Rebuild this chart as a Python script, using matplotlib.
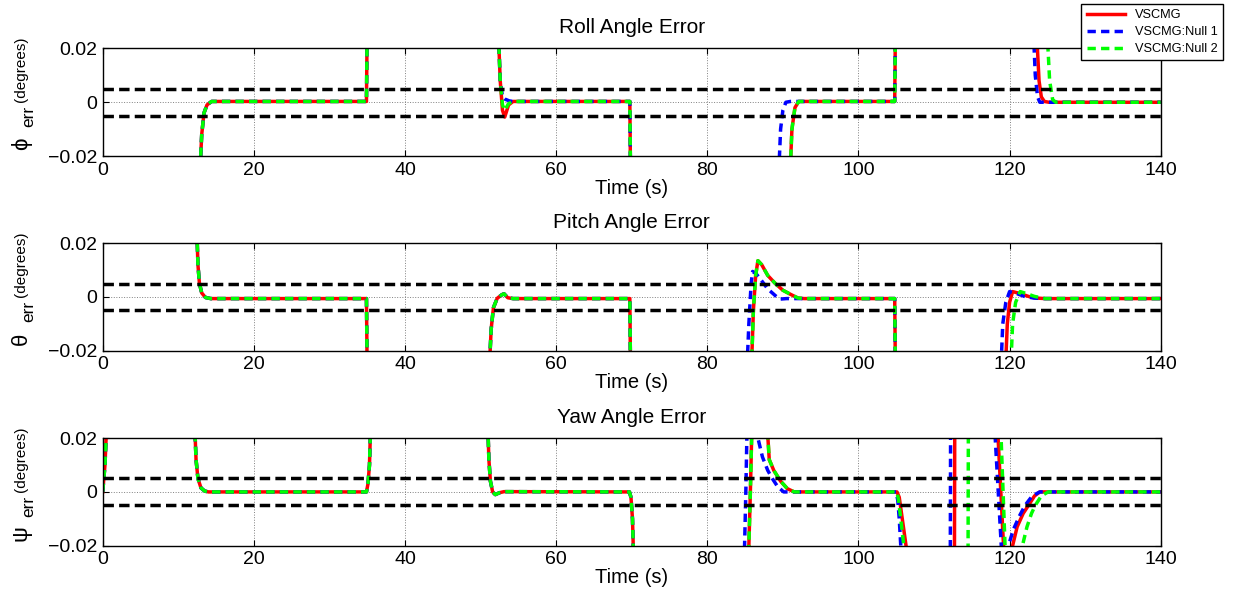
#!/usr/bin/env python3
"""Roll / pitch / yaw attitude error of the VSCMG runs, three stacked panels -> out.png"""
import matplotlib
matplotlib.use("Agg")
import matplotlib.pyplot as plt

plt.rcParams["font.family"] = ["Liberation Sans", "DejaVu Sans"]

# values; +-0.03 means "off the chart" (clipped by the axes)
# ---- roll ----
roll_t_vscmg = [12.8, 13.1, 13.4, 13.8, 14.4, 34.9, 35.0, 52.3, 52.6, 52.9, 53.2, 53.7, 54.3,
                69.75, 69.85, 90.9, 91.2, 91.6, 92.1, 104.8, 104.9, 123.5, 123.9, 124.2, 124.6, 125.2, 140]
roll_vscmg = [-0.03, -0.012, -0.004, -0.001, 0.0003, 0.0003, 0.03, 0.03, 0.008, -0.003, -0.0055, -0.001, 0.0003,
              0.0003, -0.03, -0.03, -0.01, -0.002, 0.0003, 0.0003, 0.03, 0.03, 0.008, 0.002, 0.0003, 0.0, 0.0]
roll_t_null1 = [12.8, 13.1, 13.4, 13.8, 14.4, 34.9, 35.0, 52.3, 52.6, 52.9, 53.2, 53.8, 54.3,
                69.75, 69.85, 89.4, 89.7, 90.0, 90.4, 91.0, 104.8, 104.9, 123.1, 123.4, 123.7, 124.0, 140]
roll_null1 = [-0.03, -0.012, -0.004, -0.001, 0.0003, 0.0003, 0.03, 0.03, 0.008, 0.002, 0.0012, 0.0005, 0.0003,
              0.0003, -0.03, -0.03, -0.01, -0.003, 0.0, 0.0003, 0.0003, 0.03, 0.03, 0.01, 0.002, 0.0, 0.0]
roll_t_null2 = [12.8, 13.1, 13.4, 13.8, 14.4, 34.9, 35.0, 52.3, 52.6, 52.9, 53.2, 53.7, 54.3,
                69.75, 69.85, 90.9, 91.2, 91.6, 92.1, 104.8, 104.9, 124.9, 125.3, 125.7, 126.1, 140]
roll_null2 = [-0.03, -0.012, -0.004, -0.001, 0.0003, 0.0003, 0.03, 0.03, 0.008, -0.001, -0.003, -0.0005, 0.0003,
              0.0003, -0.03, -0.03, -0.01, -0.002, 0.0003, 0.0003, 0.03, 0.03, 0.008, 0.001, 0.0, 0.0]

# ---- pitch ----
pitch_t_vscmg = [12.4, 12.6, 12.8, 13.1, 13.6, 14.3, 34.9, 35.0, 51.1, 51.4, 51.7, 52.2, 52.8, 53.1, 53.6, 54.3,
                 69.75, 69.85, 85.8, 86.1, 86.4, 86.7, 87.2, 88.0, 89.0, 90.0, 91.0, 92.0, 92.8,
                 104.8, 104.9, 119.4, 119.7, 120.0, 120.4, 121.5, 122.5, 123.5, 124.7, 140]
pitch_vscmg = [0.03, 0.012, 0.005, 0.0015, -0.0002, -0.0006, -0.0006, -0.03, -0.03, -0.012, -0.004, -0.0005, 0.0008,
               0.0012, -0.0003, -0.0006, -0.0006, -0.03, -0.03, -0.005, 0.008, 0.0135, 0.012, 0.008, 0.005, 0.0025,
               0.001, -0.0004, -0.0006, -0.0006, -0.03, -0.03, -0.01, -0.002, 0.002, 0.0012, 0.0002, -0.0004,
               -0.0006, -0.0006]
pitch_t_null1 = [12.4, 12.6, 12.8, 13.1, 13.6, 14.3, 34.9, 35.0, 51.1, 51.4, 51.7, 52.2, 52.8, 53.1, 53.6, 54.3,
                 69.75, 69.85, 85.2, 85.5, 85.8, 86.0, 86.5, 87.2, 88.0, 89.0, 89.6, 90.5,
                 104.8, 104.9, 118.8, 119.1, 119.5, 120.0, 121.0, 122.0, 123.2, 124.5, 140]
pitch_null1 = [0.03, 0.012, 0.005, 0.0015, -0.0002, -0.0006, -0.0006, -0.03, -0.03, -0.012, -0.004, -0.0005, 0.0008,
               0.0012, -0.0003, -0.0006, -0.0006, -0.03, -0.03, -0.01, 0.005, 0.0095, 0.0085, 0.006, 0.003, 0.0005,
               -0.0008, -0.0006, -0.0006, -0.03, -0.03, -0.01, -0.002, 0.002, 0.0012, 0.0002, -0.0004, -0.0006,
               -0.0006]
pitch_t_null2 = [12.4, 12.6, 12.8, 13.1, 13.6, 14.3, 34.9, 35.0, 51.1, 51.4, 51.7, 52.2, 52.8, 53.1, 53.6, 54.3,
                 69.75, 69.85, 85.8, 86.1, 86.4, 86.7, 87.2, 88.0, 89.0, 90.0, 91.0, 92.0, 92.8,
                 104.8, 104.9, 120.1, 120.4, 120.8, 121.4, 122.3, 123.3, 124.7, 140]
pitch_null2 = [0.03, 0.012, 0.005, 0.0015, -0.0002, -0.0006, -0.0006, -0.03, -0.03, -0.012, -0.004, -0.0005, 0.0008,
               0.0012, -0.0003, -0.0006, -0.0006, -0.03, -0.03, -0.005, 0.008, 0.0135, 0.012, 0.008, 0.005, 0.0025,
               0.001, -0.0004, -0.0006, -0.0006, -0.03, -0.03, -0.01, -0.002, 0.002, 0.0012, 0.0002, -0.0006, -0.0006]

# ---- yaw ----
yaw_t_vscmg = [0.0, 0.3, 0.6, 12.1, 12.35, 12.6, 13.0, 13.5, 14.0, 34.9, 35.1, 35.3, 35.5,
               50.9, 51.1, 51.3, 51.6, 51.95, 52.5, 53.1, 69.7, 69.9, 70.1, 70.3,
               85.4, 85.7, 85.95, 87.8, 88.2, 88.8, 89.7, 90.6, 91.5,
               105.1, 105.4, 105.7, 106.3, 106.5, 112.7, 112.75, 118.3, 119.2, 119.3,
               120.3, 120.4, 121.0, 121.8, 122.5, 123.3, 124.0, 140]
yaw_vscmg = [0.0, 0.01, 0.03, 0.03, 0.012, 0.005, 0.0015, 0.0003, 0.0, 0.0, 0.003, 0.01, 0.03,
             0.03, 0.012, 0.004, 0.0, -0.001, -0.0003, 0.0001, 0.0, -0.002, -0.01, -0.03,
             -0.03, 0.0, 0.03, 0.03, 0.012, 0.008, 0.004, 0.0012, 0.0,
             0.0, -0.002, -0.008, -0.02, -0.03, -0.03, 0.03, 0.03, -0.02, -0.03,
             -0.03, -0.02, -0.013, -0.008, -0.005, -0.0015, 0.0, 0.0]
yaw_t_null1 = [0.0, 0.3, 0.6, 12.1, 12.35, 12.6, 13.0, 13.5, 14.0, 34.9, 35.1, 35.3, 35.5,
               50.9, 51.1, 51.3, 51.6, 51.95, 52.5, 53.1, 69.7, 69.9, 70.1, 70.3,
               84.85, 85.1, 85.3, 86.5, 86.7, 87.3, 88.0, 88.6, 89.3, 90.1,
               105.0, 105.2, 105.4, 105.6, 105.7, 112.15, 112.2, 117.9, 118.9, 119.0,
               119.8, 119.85, 120.5, 121.3, 122.05, 123.0, 124.0, 140]
yaw_null1 = [0.0, 0.01, 0.03, 0.03, 0.012, 0.005, 0.0015, 0.0003, 0.0, 0.0, 0.003, 0.01, 0.03,
             0.03, 0.012, 0.004, 0.0, -0.001, -0.0003, 0.0001, 0.0, -0.002, -0.01, -0.03,
             -0.03, 0.0, 0.03, 0.03, 0.02, 0.013, 0.008, 0.005, 0.002, 0.0,
             0.0, -0.003, -0.01, -0.02, -0.03, -0.03, 0.03, 0.03, -0.02, -0.03,
             -0.03, -0.02, -0.014, -0.009, -0.005, -0.0015, 0.0, 0.0]
yaw_t_null2 = [0.0, 0.3, 0.6, 12.1, 12.35, 12.6, 13.0, 13.5, 14.0, 34.9, 35.1, 35.3, 35.5,
               50.9, 51.1, 51.3, 51.6, 51.95, 52.5, 53.1, 69.7, 69.9, 70.1, 70.3,
               85.4, 85.7, 85.95, 87.8, 88.2, 88.8, 89.7, 90.6, 91.5,
               105.1, 105.3, 105.6, 106.0, 106.1, 114.5, 114.55, 118.75, 119.4, 119.5,
               121.6, 121.7, 122.3, 122.9, 123.4, 124.2, 125.1, 140]
yaw_null2 = [0.0, 0.01, 0.03, 0.03, 0.012, 0.005, 0.0015, 0.0003, 0.0, 0.0, 0.003, 0.01, 0.03,
             0.03, 0.012, 0.004, 0.0, -0.001, -0.0003, 0.0001, 0.0, -0.002, -0.01, -0.03,
             -0.03, 0.0, 0.03, 0.03, 0.012, 0.008, 0.004, 0.0012, 0.0,
             0.0, -0.003, -0.01, -0.02, -0.03, -0.03, 0.03, 0.03, -0.02, -0.03,
             -0.03, -0.02, -0.013, -0.008, -0.005, -0.0015, 0.0, 0.0]

BOUND = 0.005
TITLES = ["Roll Angle Error", "Pitch Angle Error", "Yaw Angle Error"]
SYMBOLS = ["\u03d5", "\u03b8", "\u03c8"]
SERIES = [
    [(roll_t_vscmg, roll_vscmg), (roll_t_null1, roll_null1), (roll_t_null2, roll_null2)],
    [(pitch_t_vscmg, pitch_vscmg), (pitch_t_null1, pitch_null1), (pitch_t_null2, pitch_null2)],
    [(yaw_t_vscmg, yaw_vscmg), (yaw_t_null1, yaw_null1), (yaw_t_null2, yaw_null2)],
]
LABELS = ["VSCMG", "VSCMG:Null 1", "VSCMG:Null 2"]
COLORS = ["#FF0000", "#0000FF", "#00FF00"]
STYLE = [dict(ls="-"), dict(dashes=(2.4, 1.5)), dict(dashes=(2.4, 1.5))]

fig = plt.figure(figsize=(12.36, 5.98), dpi=100)
left, width, height = 0.0831, 0.856, 0.1798
bottoms = [0.7391, 0.4135, 0.0875]

handles = []
for i in range(3):
    ax = fig.add_axes([left, bottoms[i], width, height])
    for j, (t, v) in enumerate(SERIES[i]):
        ln, = ax.plot(t, v, color=COLORS[j], lw=2.5, label=LABELS[j], **STYLE[j])
        if i == 0:
            handles.append(ln)
    for b in (BOUND, -BOUND):
        ax.axhline(b, color="black", lw=2.5, dashes=(3.0, 1.5))
    ax.set_xlim(0, 140)
    ax.set_ylim(-0.02, 0.02)
    ax.set_xticks(range(0, 141, 20))
    ax.set_yticks([-0.02, 0, 0.02])
    ax.set_yticklabels(["\u22120.02", "0", "0.02"])
    ax.grid(True, ls=":", color="#808080", lw=0.7)
    ax.tick_params(direction="in", top=True, right=True, labelsize=14, pad=4, length=4)
    for s in ax.spines.values():
        s.set_linewidth(1.0)
    ax.set_title(TITLES[i], fontsize=15, pad=11)
    ax.set_xlabel("Time (s)", fontsize=14.5, labelpad=0)
    # y label pieces: "(degrees)", subscript "err", greek symbol (rotated, bottom to top)
    ax.text(-0.0772, 0.50, "(degrees)", rotation=90, fontsize=11,
            ha="center", va="bottom", transform=ax.transAxes)
    ax.text(-0.0700, 0.365, "err", rotation=90, fontsize=12.5,
            ha="center", va="center", transform=ax.transAxes)
    ax.text(-0.0770, 0.115, SYMBOLS[i], rotation=90, fontsize=16,
            ha="center", va="center", transform=ax.transAxes)

leg = fig.legend(handles, LABELS, loc="upper right", bbox_to_anchor=(1223 / 1236, 1 - 4 / 598),
                 borderaxespad=0, fontsize=9.2, handlelength=3.0, labelspacing=0.4,
                 fancybox=False, framealpha=1, edgecolor="black")
leg.get_frame().set_linewidth(1.0)

fig.savefig("out.png", dpi=100)
